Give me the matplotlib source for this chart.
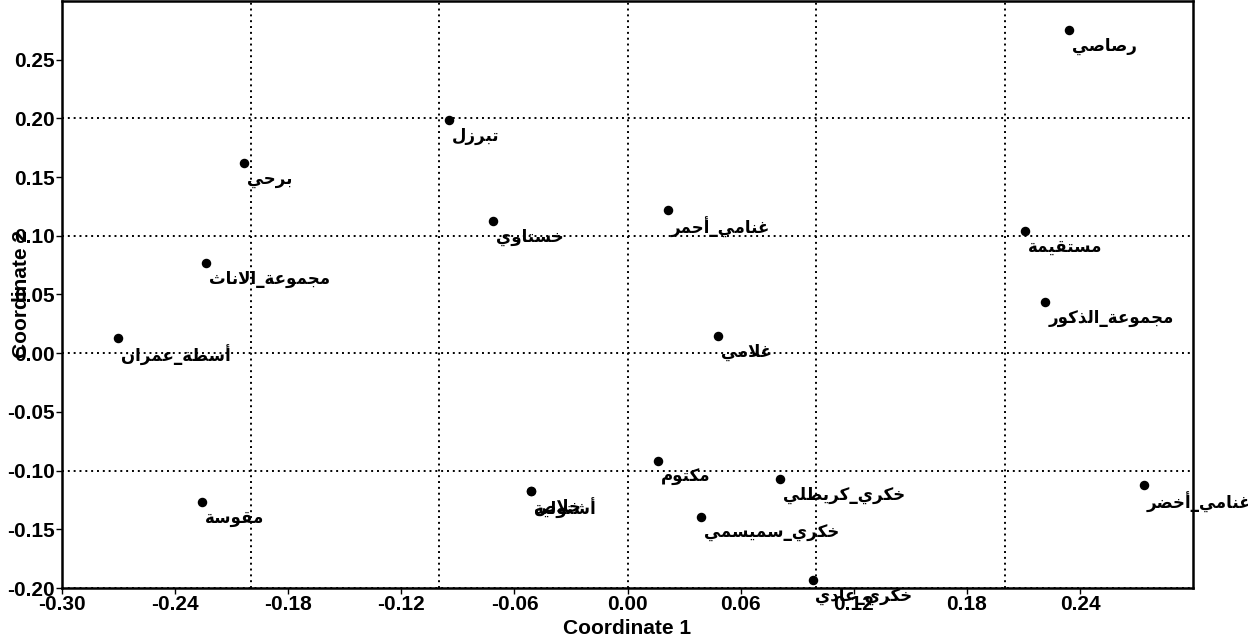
import matplotlib
matplotlib.use("Agg")
import matplotlib.pyplot as plt
from matplotlib.ticker import MultipleLocator, FormatStrFormatter

# point names and coordinates
names = ["برحي", "مجموعة_الاناث", "تبرزل", "خستاوي", "غنامي_أحمر", "رصاصي",
         "مستقيمة", "مجموعة_الذكور", "أسطة_عمران", "مقوسة", "غلامي", "مكتوم",
         "خلاص", "أشتولية", "خكري_كريطلي", "خكري_سميسمي", "خكري_عادي", "غنامي_أخضر"]
coord1 = [-0.2032, -0.2236, -0.0949, -0.0715, 0.0212, 0.2343,
          0.2108, 0.2216, -0.2701, -0.2258, 0.0480, 0.0163,
          -0.0511, -0.0511, 0.0809, 0.0391, 0.0981, 0.2738]
coord2 = [0.1618, 0.0771, 0.1987, 0.1125, 0.1222, 0.2752,
          0.1040, 0.0436, 0.0125, -0.1264, 0.0147, -0.0918,
          -0.1173, -0.1173, -0.1074, -0.1397, -0.1930, -0.1125]

# minimal arabic shaping: (isolated, final, initial, medial) presentation forms
FORMS = {
    "ا": (0xFE8D, 0xFE8E, None, None), "أ": (0xFE83, 0xFE84, None, None),
    "ب": (0xFE8F, 0xFE90, 0xFE91, 0xFE92), "ة": (0xFE93, 0xFE94, None, None),
    "ت": (0xFE95, 0xFE96, 0xFE97, 0xFE98), "ث": (0xFE99, 0xFE9A, 0xFE9B, 0xFE9C),
    "ج": (0xFE9D, 0xFE9E, 0xFE9F, 0xFEA0), "ح": (0xFEA1, 0xFEA2, 0xFEA3, 0xFEA4),
    "خ": (0xFEA5, 0xFEA6, 0xFEA7, 0xFEA8), "د": (0xFEA9, 0xFEAA, None, None),
    "ذ": (0xFEAB, 0xFEAC, None, None), "ر": (0xFEAD, 0xFEAE, None, None),
    "ز": (0xFEAF, 0xFEB0, None, None), "س": (0xFEB1, 0xFEB2, 0xFEB3, 0xFEB4),
    "ش": (0xFEB5, 0xFEB6, 0xFEB7, 0xFEB8), "ص": (0xFEB9, 0xFEBA, 0xFEBB, 0xFEBC),
    "ض": (0xFEBD, 0xFEBE, 0xFEBF, 0xFEC0), "ط": (0xFEC1, 0xFEC2, 0xFEC3, 0xFEC4),
    "ع": (0xFEC9, 0xFECA, 0xFECB, 0xFECC), "غ": (0xFECD, 0xFECE, 0xFECF, 0xFED0),
    "ق": (0xFED5, 0xFED6, 0xFED7, 0xFED8), "ك": (0xFED9, 0xFEDA, 0xFEDB, 0xFEDC),
    "ل": (0xFEDD, 0xFEDE, 0xFEDF, 0xFEE0), "م": (0xFEE1, 0xFEE2, 0xFEE3, 0xFEE4),
    "ن": (0xFEE5, 0xFEE6, 0xFEE7, 0xFEE8), "ه": (0xFEE9, 0xFEEA, 0xFEEB, 0xFEEC),
    "و": (0xFEED, 0xFEEE, None, None), "ي": (0xFEF1, 0xFEF2, 0xFEF3, 0xFEF4),
}
LAM_ALEF = {"ا": (0xFEFB, 0xFEFC), "أ": (0xFEF7, 0xFEF8)}


def joins_next(c):
    return c in FORMS and FORMS[c][2] is not None


def shape(word):
    out = []
    i = 0
    while i < len(word):
        c = word[i]
        link_prev = i > 0 and joins_next(word[i - 1])
        if c == "ل" and i + 1 < len(word) and word[i + 1] in LAM_ALEF:
            iso, fin = LAM_ALEF[word[i + 1]]
            out.append(chr(fin if link_prev else iso))
            i += 2
            continue
        if c not in FORMS:
            out.append(c)
            i += 1
            continue
        iso, fin, ini, med = FORMS[c]
        link_next = ini is not None and i + 1 < len(word) and word[i + 1] in FORMS
        if link_prev and link_next:
            out.append(chr(med))
        elif link_prev:
            out.append(chr(fin))
        elif link_next:
            out.append(chr(ini))
        else:
            out.append(chr(iso))
        i += 1
    return "".join(reversed(out))


plt.rcParams["font.family"] = ["Liberation Sans", "DejaVu Sans"]
plt.rcParams["font.weight"] = "bold"
plt.rcParams["axes.unicode_minus"] = False

fig = plt.figure(figsize=(12.48, 6.4), dpi=100)
ax = fig.add_axes([62 / 1248, 52 / 640, 1131 / 1248, 587 / 640])

ax.scatter(coord1, coord2, s=34, color="black", zorder=3, clip_on=False)
for name, x, y in zip(names, coord1, coord2):
    ax.annotate(shape(name), (x, y), xytext=(2, -5), textcoords="offset points",
                ha="left", va="top", fontsize=12, fontweight="bold",
                family="DejaVu Sans", annotation_clip=False)

ax.set_xlim(-0.30, 0.2999)
ax.set_ylim(-0.20, 0.2999)
ax.xaxis.set_major_locator(MultipleLocator(0.06))
ax.yaxis.set_major_locator(MultipleLocator(0.05))
ax.xaxis.set_major_formatter(FormatStrFormatter("%.2f"))
ax.yaxis.set_major_formatter(FormatStrFormatter("%.2f"))
# grid runs every 0.1, independent of the tick labels
ax.xaxis.set_minor_locator(MultipleLocator(0.1))
ax.yaxis.set_minor_locator(MultipleLocator(0.1))
ax.xaxis.remove_overlapping_locs = False
ax.yaxis.remove_overlapping_locs = False
ax.tick_params(which="major", length=4, width=1, pad=1, labelsize=15)
ax.tick_params(which="minor", length=0)
for lbl in ax.get_xticklabels() + ax.get_yticklabels():
    lbl.set_fontweight("bold")

ax.grid(which="minor", color="black", linestyle=(0, (1, 2)), linewidth=1.4)
ax.grid(which="major", visible=False)
ax.set_axisbelow(True)
for sp in ax.spines.values():
    sp.set_linestyle((0, (1, 1)))
    sp.set_linewidth(1.8)

ax.set_xlabel("Coordinate 1", fontsize=15, fontweight="bold", labelpad=4)
ax.set_ylabel("Coordinate 2", fontsize=15, fontweight="bold")
ax.yaxis.set_label_coords(-0.027, 0.5)

fig.savefig("out.png", dpi=100)
